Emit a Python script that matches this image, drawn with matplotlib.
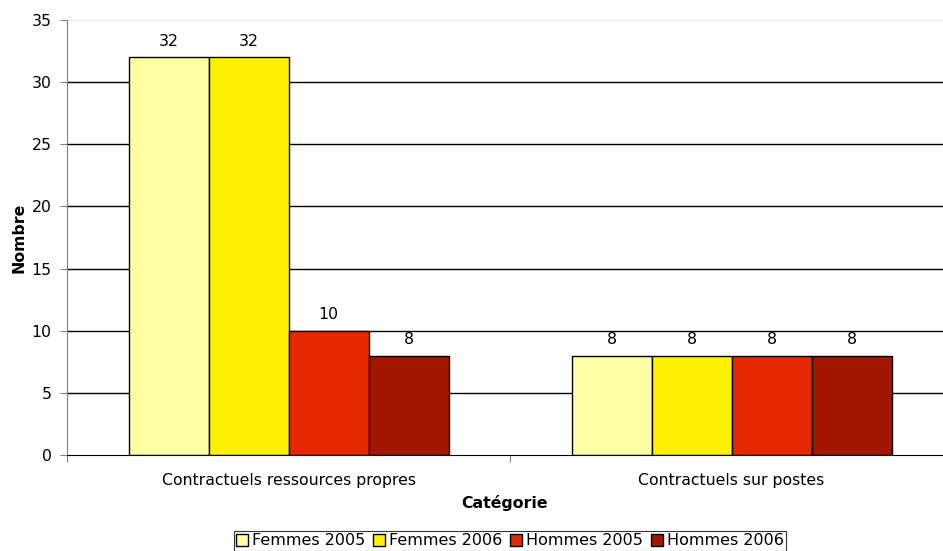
import numpy as np
import matplotlib
matplotlib.use('Agg')
import matplotlib.pyplot as plt
from matplotlib.patches import Patch

categories = ['Contractuels ressources propres', 'Contractuels sur postes']
series = ['Femmes 2005', 'Femmes 2006', 'Hommes 2005', 'Hommes 2006']
values = {
  'Femmes 2005': [32, 8],
  'Femmes 2006': [32, 8],
  'Hommes 2005': [10, 8],
  'Hommes 2006': [8, 8],
}
colors = ['#FFFFA3', '#FFF200', '#E62800', '#A31600']

plt.rcParams['font.family'] = ['DejaVu Sans']
plt.rcParams['font.size'] = 11.3

fig = plt.figure(figsize=(9.43, 5.51), dpi=100)
ax = fig.add_axes([67/943, 1-455/551, 1-67/943, 435/551])

x = np.arange(len(categories))
w = 320/443/4
for i, s in enumerate(series):
  pos = x + (i - 1.5)*w
  bars = ax.bar(pos, values[s], width=w, color=colors[i], edgecolor='black', linewidth=1, zorder=3)
  for b, v in zip(bars, values[s]):
    ax.text(b.get_x()+b.get_width()/2, v+0.7, str(v), ha='center', va='bottom', zorder=4)

ax.set_xlim(-0.5, 1.5 - 10/443)
ax.set_ylim(0, 35)
ax.set_yticks(range(0, 36, 5))
for yv in range(5, 35, 5):
  ax.axhline(yv, color='black', linewidth=1, zorder=1)
ax.axhline(35, color='#e8e8e8', linewidth=0.8, zorder=1)

ax.set_xticks([-0.5, 0.5], minor=False)
ax.set_xticklabels([])
ax.set_xticks(x, minor=True)
ax.set_xticklabels(categories, minor=True)
ax.tick_params(axis='x', which='minor', length=0, pad=13)
ax.tick_params(axis='x', which='major', length=5, color='#808080')
ax.tick_params(axis='y', length=5, color='#808080', pad=6)

for side in ['top', 'right']:
  ax.spines[side].set_visible(False)
ax.spines['left'].set_color('#808080')
ax.spines['bottom'].set_color('black')
ax.spines['bottom'].set_zorder(5)

ax.set_ylabel('Nombre', fontweight='bold', labelpad=4)
ax.set_xlabel('Catégorie', fontweight='bold', labelpad=5)

handles = [Patch(facecolor=c, edgecolor='black', label=s) for c, s in zip(colors, series)]
leg = fig.legend(handles=handles, loc='upper center', bbox_to_anchor=(510/943, 1-531/551), ncol=4,
                 frameon=True, fancybox=False, edgecolor='black', handlelength=0.75, handleheight=0.75,
                 handletextpad=0.25, columnspacing=0.5, borderpad=0.15, borderaxespad=0.0,
                 fontsize=11.5)
leg.get_frame().set_linewidth(0.8)

fig.savefig('out.png', dpi=100)
